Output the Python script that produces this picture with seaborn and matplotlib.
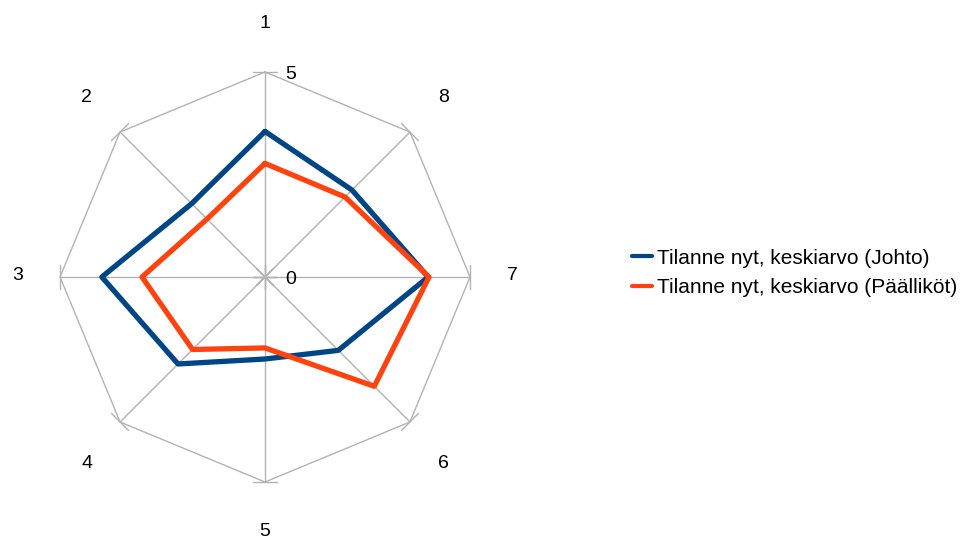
import numpy as np
import pandas as pd
import seaborn as sns
import matplotlib
matplotlib.use("Agg")
import matplotlib.pyplot as plt
from matplotlib.lines import Line2D

categories = ["1", "2", "3", "4", "5", "6", "7", "8"]
johto = [3.55, 2.53, 3.98, 3.0, 2.0, 2.53, 3.98, 3.0]
paallikot = [2.77, 2.0, 3.0, 2.5, 1.73, 3.77, 4.0, 2.76]
series_names = ["Tilanne nyt, keskiarvo (Johto)", "Tilanne nyt, keskiarvo (Päälliköt)"]
series_colors = ["#004586", "#ff420e"]
r_max = 5

sns.set_theme(style="white")
plt.rcParams["font.family"] = ["Liberation Sans", "DejaVu Sans"]
plt.rcParams["text.color"] = "black"

n = len(categories)
angles = np.arange(n) * 2 * np.pi / n

rows = []
for name, vals in zip(series_names, [johto, paallikot]):
    for k, i in enumerate(list(range(n)) + [0]):
        a = 2 * np.pi if k == n else angles[i]
        rows.append({"series": name, "angle": a, "value": vals[i]})
df = pd.DataFrame(rows)

fig = plt.figure(figsize=(9.61, 5.39), dpi=100)
cx, cy, rad = 265, 277, 205
ax = fig.add_axes([(cx - rad) / 961, (539 - cy - rad) / 539, 2 * rad / 961, 2 * rad / 539],
                  projection="polar")
ax.set_theta_zero_location("N")
ax.set_theta_direction(1)
ax.set_ylim(0, r_max)
ax.grid(False)
ax.spines["polar"].set_visible(False)
ax.set_facecolor("none")

grid_c = "#b3b3b3"
# octagonal frame and spokes
ring = np.append(angles, angles[0])
ax.plot(ring, [r_max] * (n + 1), color=grid_c, lw=1, zorder=1, clip_on=False)
for a in angles:
    ax.plot([a, a], [0, r_max], color=grid_c, lw=1, zorder=1, clip_on=False)

# tick marks across each spoke at 0 and at the outer level
half = 12 / rad * r_max
for a in angles:
    d = np.array([np.sin(a), np.cos(a)])
    p = np.array([np.cos(a), -np.sin(a)])
    for lvl in (0, r_max):
        v = d * lvl
        pts = [v + p * half, v - p * half]
        th = [np.arctan2(q[0], q[1]) for q in pts]
        rr = [np.hypot(*q) for q in pts]
        ax.plot(th, rr, color=grid_c, lw=1, zorder=1, clip_on=False)

sns.lineplot(data=df, x="angle", y="value", hue="series", palette=series_colors,
             sort=False, estimator=None, lw=3.8, ax=ax, legend=False, zorder=3,
             clip_on=False)
ax.set_xlabel("")
ax.set_ylabel("")
ax.set_xticks([])
ax.set_yticks([])

# category labels around the frame
for i, (a, c) in enumerate(zip(angles, categories)):
    r_lab = 6.03 if i % 4 == 2 else 6.15
    if i == 4:
        dy = -2
    elif i in (3, 5):
        dy = -6
    else:
        dy = 1
    ax.annotate(c, xy=(a, r_lab), xytext=(0, dy),
                textcoords="offset points", ha="center", va="center", fontsize=14,
                color="black", annotation_clip=False)

# value scale labels
for lvl in (0, r_max):
    ax.annotate(str(lvl), xy=(0, lvl), xytext=(18.5, -1.5), textcoords="offset points",
                ha="center", va="center", fontsize=14, color="black", annotation_clip=False)

handles = [Line2D([0], [0], color=c, lw=3) for c in series_colors]
fig.legend(handles, series_names, loc="center left", bbox_to_anchor=(632 / 961, 1 - 273 / 539),
           frameon=False, fontsize=15, handlelength=0.97, handletextpad=0.25,
           labelspacing=0.5, borderpad=0, borderaxespad=0, labelcolor="black")

fig.savefig("out.png", dpi=100)
